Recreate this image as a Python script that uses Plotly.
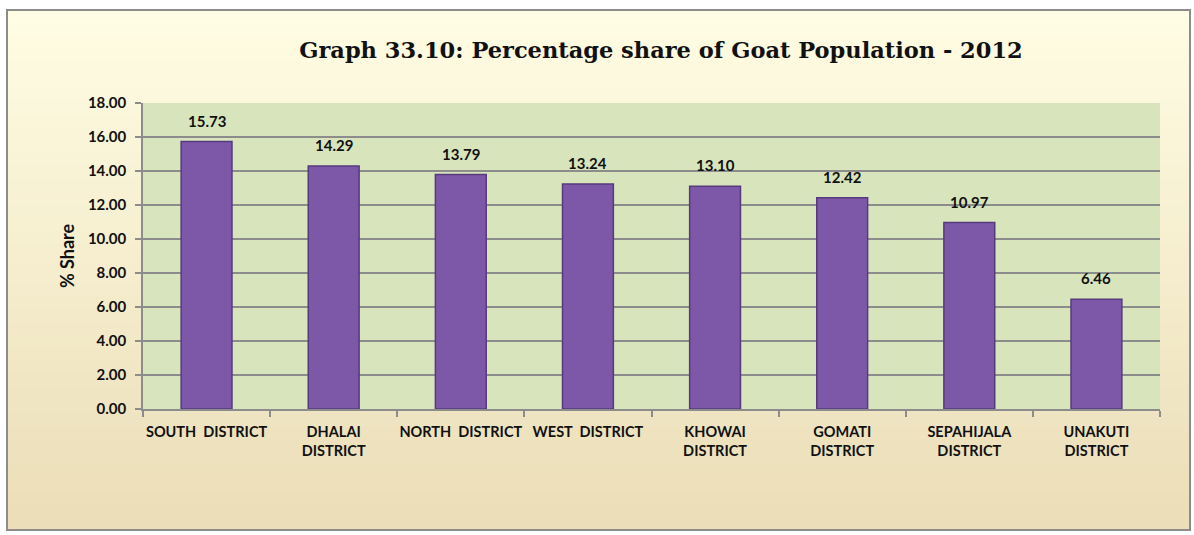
import plotly.graph_objects as go

categories = ["SOUTH  DISTRICT", "DHALAI<br>DISTRICT", "NORTH  DISTRICT", "WEST  DISTRICT",
              "KHOWAI<br>DISTRICT", "GOMATI<br>DISTRICT", "SEPAHIJALA<br>DISTRICT", "UNAKUTI<br>DISTRICT"]
values = [15.73, 14.29, 13.79, 13.24, 13.10, 12.42, 10.97, 6.46]
value_labels = ["15.73", "14.29", "13.79", "13.24", "13.10", "12.42", "10.97", "6.46"]
title_text = "Graph 33.10: Percentage share of Goat Population - 2012"
y_title = "% Share"

W, H = 1194, 535
L, R, T, B = 143, 1160, 103, 409
FONT = "Lato, Open Sans, sans-serif"

def px_x(p):
    return (p - L) / (R - L)

def px_y(p):
    return (B - p) / (B - T)

fig = go.Figure()

fig.add_trace(go.Bar(
    x=categories, y=values,
    marker=dict(color="#7D58A8", line=dict(color="#563A7C", width=1.5)),
    width=0.4,
    hoverinfo="x+y",
))

for c, v, t in zip(categories, values, value_labels):
    fig.add_annotation(x=c, y=v, text="<b>" + t + "</b>", showarrow=False, yshift=21,
                       font=dict(family=FONT, size=15, color="#111"))

shapes = []
# outer background gradient (cream to tan) via stripes
n = 40
top_c = (255, 253, 228)
bot_c = (236, 222, 184)
y0p, y1p = 10, 530
for i in range(n):
    f = i / (n - 1)
    col = tuple(int(top_c[k] + (bot_c[k] - top_c[k]) * f) for k in range(3))
    ya = y0p + (y1p - y0p) * i / n
    yb = y0p + (y1p - y0p) * (i + 1) / n + 1
    shapes.append(dict(type="rect", xref="paper", yref="paper", layer="below",
                       x0=px_x(7), x1=px_x(1190), y0=px_y(yb), y1=px_y(ya),
                       fillcolor="rgb(%d,%d,%d)" % col, line=dict(width=0)))
# plot area fill
shapes.append(dict(type="rect", xref="paper", yref="paper", layer="below",
                   x0=0, x1=1, y0=0, y1=1, fillcolor="#D8E4BC", line=dict(width=0)))
# frame border
shapes.append(dict(type="rect", xref="paper", yref="paper", layer="above",
                   x0=px_x(7), x1=px_x(1190), y0=px_y(530), y1=px_y(10),
                   line=dict(color="#8C8C8C", width=2), fillcolor="rgba(0,0,0,0)"))

fig.update_layout(
    width=W, height=H,
    margin=dict(l=L, r=W - R, t=T, b=H - B),
    paper_bgcolor="white",
    plot_bgcolor="rgba(0,0,0,0)",
    shapes=shapes,
    showlegend=False,
    title=dict(text="<b>" + title_text + "</b>", x=661 / W, xref="container", xanchor="center",
               y=1 - 50 / H, yref="container", yanchor="middle",
               font=dict(family="DejaVu Serif, Liberation Serif, serif", size=22.5, color="#111")),
    xaxis=dict(
        type="category",
        showline=True, linecolor="#8C8C8C", linewidth=1.5,
        ticks="outside", tickson="boundaries", ticklen=6, tickcolor="#8C8C8C", tickwidth=1.5,
        tickangle=0, ticklabelstandoff=9,
        tickfont=dict(family=FONT, size=14.5, color="#111", weight="bold"),
        showgrid=False,
    ),
    yaxis=dict(
        range=[0, 18], dtick=2, tickformat=".2f",
        showline=True, linecolor="#8C8C8C", linewidth=1.5,
        ticks="outside", ticklen=6, tickcolor="#8C8C8C", tickwidth=1.5,
        ticklabelstandoff=6,
        showgrid=True, gridcolor="#8C8C8C", gridwidth=1.5,
        zeroline=False,
        tickfont=dict(family=FONT, size=15, color="#111", weight="bold"),
        title=dict(text="<b>" + y_title + "</b>", standoff=9,
                   font=dict(family=FONT, size=18, color="#111")),
    ),
)

fig.write_html("out.html", config={"displayModeBar": False},
               post_script="document.body.style.margin='0';")
